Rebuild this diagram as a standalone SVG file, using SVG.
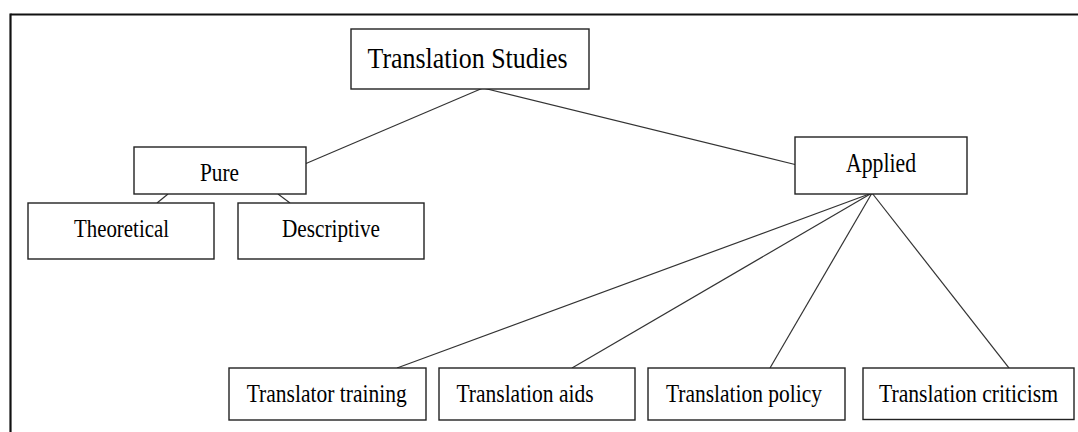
<svg xmlns="http://www.w3.org/2000/svg" width="1078" height="432" viewBox="0 0 1078 432">
<style>
.box{fill:#fff;stroke:#222;stroke-width:1.4}
.lbl{font-family:"Liberation Serif","Times New Roman",serif;fill:#000;text-anchor:middle}
.conn line{stroke:#333;stroke-width:1.2}
.frame{stroke:#111;stroke-width:2.2;fill:none}
</style>
<rect x="0" y="0" width="1078" height="432" fill="#fff"/>
<g id="frame">
<line class="frame" x1="10.5" y1="14.5" x2="1078" y2="14.5"/>
<line class="frame" x1="10.5" y1="13.4" x2="10.5" y2="432"/>
</g>
<g id="connectors" class="conn">
<line x1="483" y1="88" x2="306" y2="163.5"/>
<line x1="483" y1="88" x2="795" y2="164.5"/>
<line x1="168" y1="194" x2="157" y2="203"/>
<line x1="278" y1="194" x2="290" y2="203"/>
<line x1="872" y1="193" x2="397" y2="368"/>
<line x1="872" y1="193" x2="572" y2="368"/>
<line x1="872" y1="193" x2="770" y2="368"/>
<line x1="872" y1="193" x2="1020" y2="382"/>
</g>
<g id="translation-studies">
<rect class="box" x="351" y="29" width="238" height="60"/>
<text class="lbl" x="467.5" y="67.5" font-size="29" textLength="200" lengthAdjust="spacingAndGlyphs">Translation Studies</text>
</g>
<g id="pure">
<rect class="box" x="134" y="147" width="172" height="47"/>
<text class="lbl" x="219.5" y="181" font-size="26" textLength="39" lengthAdjust="spacingAndGlyphs">Pure</text>
</g>
<g id="theoretical">
<rect class="box" x="28" y="203" width="186" height="56"/>
<text class="lbl" x="121.5" y="236.5" font-size="26" textLength="95" lengthAdjust="spacingAndGlyphs">Theoretical</text>
</g>
<g id="descriptive">
<rect class="box" x="238" y="203" width="186" height="56"/>
<text class="lbl" x="331" y="236.5" font-size="26" textLength="98" lengthAdjust="spacingAndGlyphs">Descriptive</text>
</g>
<g id="applied">
<rect class="box" x="795" y="137" width="172" height="57"/>
<text class="lbl" x="881" y="171.5" font-size="27" textLength="70" lengthAdjust="spacingAndGlyphs">Applied</text>
</g>
<g id="translator-training">
<rect class="box" x="229" y="368" width="197" height="52"/>
<text class="lbl" x="326.7" y="401.5" font-size="25" textLength="160" lengthAdjust="spacingAndGlyphs">Translator training</text>
</g>
<g id="translation-aids">
<rect class="box" x="439" y="368" width="196" height="52"/>
<text class="lbl" x="525" y="401.5" font-size="25" textLength="137" lengthAdjust="spacingAndGlyphs">Translation aids</text>
</g>
<g id="translation-policy">
<rect class="box" x="648" y="368" width="197" height="52"/>
<text class="lbl" x="744" y="401.5" font-size="25" textLength="156" lengthAdjust="spacingAndGlyphs">Translation policy</text>
</g>
<g id="translation-criticism">
<rect class="box" x="863" y="368" width="211" height="51.5"/>
<text class="lbl" x="968.5" y="401.5" font-size="25" textLength="179" lengthAdjust="spacingAndGlyphs">Translation criticism</text>
</g>
</svg>
